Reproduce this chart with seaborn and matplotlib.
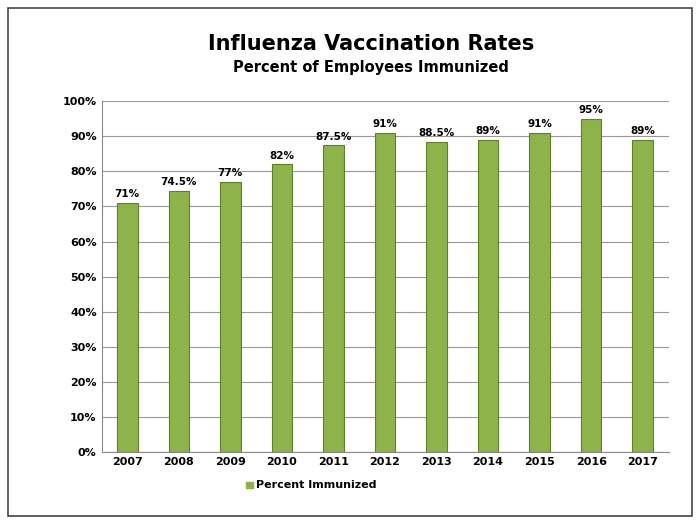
import matplotlib
matplotlib.use("Agg")
import matplotlib.pyplot as plt
import seaborn as sns
import pandas as pd
from matplotlib.patches import Rectangle

years = ["2007","2008","2009","2010","2011","2012","2013","2014","2015","2016","2017"]
rates = [71, 74.5, 77, 82, 87.5, 91, 88.5, 89, 91, 95, 89]
labels = ["71%","74.5%","77%","82%","87.5%","91%","88.5%","89%","91%","95%","89%"]

df = pd.DataFrame({"Year": years, "Rate": rates})
fig = plt.figure(figsize=(7, 5.24), dpi=100)
fig.patches.append(Rectangle((0.012, 0.015), 0.976, 0.97, transform=fig.transFigure,
                             fill=False, edgecolor="#444444", lw=1.2))
ax = fig.add_axes([0.145, 0.137, 0.81, 0.67])
sns.barplot(data=df, x="Year", y="Rate", color="#8db34a", width=0.4,
            edgecolor="#5f7f2a", linewidth=0.8, ax=ax, saturation=1)
for i, (v, t) in enumerate(zip(rates, labels)):
    ax.text(i, v + 1, t, ha="center", va="bottom", fontsize=7.5, fontweight="bold")
ax.set_ylim(0, 100)
ax.set_yticks(range(0, 101, 10))
ax.set_yticklabels([f"{v}%" for v in range(0, 101, 10)], fontsize=8, fontweight="bold")
for lab in ax.get_xticklabels():
    lab.set_fontsize(8); lab.set_fontweight("bold")
ax.set_xlabel(""); ax.set_ylabel("")
ax.yaxis.grid(True, color="#999999", lw=0.8)
ax.set_axisbelow(True)
for s in ["top", "right"]:
    ax.spines[s].set_visible(False)
ax.spines["left"].set_color("#888888")
ax.spines["bottom"].set_color("#888888")
ax.tick_params(length=0)
fig.text(0.53, 0.905, "Influenza Vaccination Rates", ha="center", fontsize=15, fontweight="bold")
fig.text(0.53, 0.862, "Percent of Employees Immunized", ha="center", fontsize=10.5, fontweight="bold")
fig.patches.append(Rectangle((0.352, 0.068), 0.009, 0.013, transform=fig.transFigure, color="#8db34a"))
fig.text(0.365, 0.074, "Percent Immunized", va="center", fontsize=8, fontweight="bold")
fig.savefig("out.png", dpi=100)
